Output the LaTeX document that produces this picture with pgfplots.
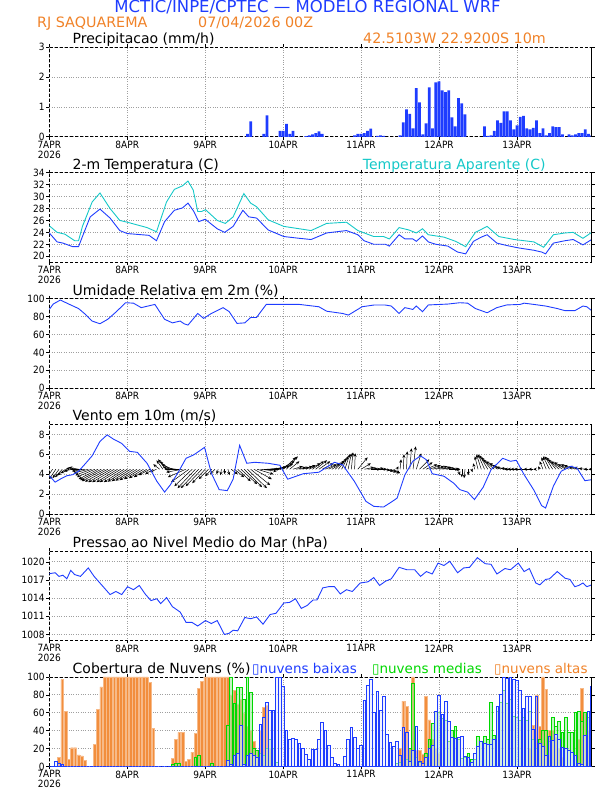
\documentclass[border=0pt]{standalone}
\usepackage{fontspec}
\setmainfont{DejaVu Sans}
\newfontfamily\condfont{DejaVu Sans Condensed}
\usepackage{pgfplots}
\pgfplotsset{compat=1.18}
\usetikzlibrary{arrows.meta}
\definecolor{gblue}{RGB}{30,60,255}
\definecolor{gorange}{RGB}{240,130,40}
\definecolor{gcyan}{RGB}{20,200,200}
\definecolor{ggreen}{RGB}{0,215,0}
\pgfplotsset{
  meteo/.style={
    scale only axis, width=542.4pt, height=89.5pt,
    xmin=0, xmax=167,
    xtick={0,24,48,72,96,120,144},
    xticklabels={7APR\\2026,8APR,9APR,10APR,11APR,12APR,13APR},
    xticklabel style={align=center, font=\condfont\fontsize{10}{10}\selectfont, inner sep=1pt},
    yticklabel style={font=\condfont\fontsize{10}{10}\selectfont, inner sep=1.5pt},
    grid=major, major grid style={gray!75, dotted, line width=0.8pt},
    tick align=outside, major tick length=3pt, tick style={black, line width=0.6pt},
    axis line style={black, densely dashed, line width=0.7pt},
    after end axis/.code={\draw[black, line width=1.4pt] (rel axis cs:1,0) -- (rel axis cs:1,1);},
    /pgf/number format/assume math mode=true,
    /pgf/number format/1000 sep={},
  }
}
\begin{document}
\begin{tikzpicture}
\path[use as bounding box] (0pt,0pt) rectangle (612pt,792pt);
% titles
\node[anchor=base, inner sep=0, text=gblue, font=\fontsize{16.5}{16.5}\selectfont] at (307.5pt,779.3pt) {MCTIC/INPE/CPTEC — MODELO REGIONAL WRF};
\node[anchor=base west, inner sep=0, text=gorange, font=\fontsize{14.3}{14.3}\selectfont] at (37pt,764.3pt) {RJ SAQUAREMA};
\node[anchor=base west, inner sep=0, text=gorange, font=\fontsize{14.3}{14.3}\selectfont] at (198pt,764.3pt) {07/04/2026 00Z};
\node[anchor=base west, inner sep=0, font=\fontsize{14}{14}\selectfont] at (72.5pt,748.2pt) {Precipitacao (mm/h)};
\node[anchor=base west, inner sep=0, text=gorange, font=\fontsize{14.3}{14.3}\selectfont] at (363pt,748.2pt) {42.5103W 22.9200S 10m};
\node[anchor=base west, inner sep=0, font=\fontsize{14}{14}\selectfont] at (72.5pt,622.8pt) {2-m Temperatura (C)};
\node[anchor=base west, inner sep=0, text=gcyan, font=\fontsize{14}{14}\selectfont] at (362.7pt,622.8pt) {Temperatura Aparente (C)};
\node[anchor=base west, inner sep=0, font=\fontsize{14}{14}\selectfont] at (72.5pt,496.8pt) {Umidade Relativa em 2m (\%)};
\node[anchor=base west, inner sep=0, font=\fontsize{14}{14}\selectfont] at (72.5pt,371pt) {Vento em 10m (m/s)};
\node[anchor=base west, inner sep=0, font=\fontsize{14}{14}\selectfont] at (72.5pt,244.5pt) {Pressao ao Nivel Medio do Mar (hPa)};
\node[anchor=base west, inner sep=0, font=\fontsize{14}{14}\selectfont] at (72.5pt,118.5pt) {Cobertura de Nuvens (\%)};
\node[anchor=base west, inner sep=0, text=gblue, font=\fontsize{13.5}{13.5}\selectfont] at (252pt,118.5pt) {▯nuvens baixas};
\node[anchor=base west, inner sep=0, text=ggreen, font=\fontsize{13.5}{13.5}\selectfont] at (372pt,118.5pt) {▯nuvens medias};
\node[anchor=base west, inner sep=0, text=gorange, font=\fontsize{13.5}{13.5}\selectfont] at (494pt,118.5pt) {▯nuvens altas};

% 1 precipitation
\begin{axis}[meteo, at={(49.3pt,655.2pt)}, anchor=south west, ymin=0, ymax=3, ytick={0,1,2,3}]
\addplot[ybar, bar width=0.85, bar shift=0pt, fill=gblue, draw=none] coordinates {
(61,0.1)(62,0.52)(66,0.1)(67,0.72)(71,0.2)(72,0.2)(73,0.43)(74,0.1)(75,0.2)
(79,0.02)(80,0.05)(81,0.08)(82,0.12)(83,0.18)(84,0.1)
(94,0.05)(95,0.1)(96,0.1)(97,0.12)(98,0.2)(99,0.27)(101,0.03)(102,0.05)(103,0.03)
(108,0.05)(109,0.48)(110,0.92)(111,0.77)(112,0.28)(113,1.63)(114,1.15)(115,0.08)(116,0.45)
(117,1.66)(118,0.28)(119,1.82)(120,1.86)(121,1.56)(122,1.5)(123,1.56)(124,0.65)(125,0.35)
(126,1.3)(127,1.12)(128,0.75)
(134,0.35)(135,0.03)(136,0.05)(137,0.2)(138,0.55)(139,0.47)(140,0.85)(141,0.85)(142,0.55)
(143,0.25)(144,0.38)(145,0.67)(146,0.7)(147,0.28)(148,0.25)(149,0.3)(150,0.55)(151,0.12)
(152,0.28)(153,0.05)(154,0.12)(155,0.35)(156,0.32)(157,0.32)(158,0.08)(160,0.08)(161,0.05)
(162,0.08)(163,0.12)(164,0.12)(165,0.25)(166,0.1)(167,0.05)};
\end{axis}

% 2 temperature
\begin{axis}[meteo, at={(49.3pt,529.8pt)}, anchor=south west, ymin=19, ymax=34, ytick={20,22,...,34}]
\addplot[gcyan, line width=0.9pt] coordinates {
(0,25.1)(2.4,24.0)(4.8,23.7)(7.8,22.6)(9,22.6)(10.2,25.0)(13.2,29.1)(15.6,30.6)(18.7,28.0)
(21.7,26.0)(24,25.7)(30.1,24.8)(33,24.1)(36.1,29.1)(38.5,31.2)(41,31.8)(42.7,32.6)(44.3,31.1)
(45.7,27.5)(46.9,27.5)(48.1,27.8)(51.7,26.0)(54.2,25.5)(56.6,26.6)(59.9,30.5)(62,28.9)
(63.8,28.3)(67.4,26.1)(72.2,25)(77,24.6)(80.6,24.3)(85.4,25.5)(91.5,25.7)(95,24.3)
(99.9,23.3)(102.9,23.3)(104.7,22.9)(107.7,24.8)(110.7,24.4)(113,23.9)(114.9,24.6)
(116.7,23.6)(121.5,23.2)(125.1,22.5)(128.2,21.6)(131.2,24.0)(134.8,25.0)(138.4,23.3)
(143.2,22.8)(149.2,22.4)(152.2,21.5)(155.2,23.6)(158.8,23.9)(161.3,24.0)(164.3,23.0)(167,24.0)};
\addplot[gblue, line width=0.9pt] coordinates {
(0,23.9)(2.4,22.4)(4.2,22.2)(7.2,21.6)(9,21.6)(10.2,23.3)(12.6,26.6)(15.6,27.9)(18.7,26.4)
(21.7,24.3)(24,23.8)(30.7,23.5)(33,22.6)(35.5,25.8)(38.5,27.7)(41,28.1)(42.7,28.9)(44.5,27.5)
(46,25.8)(48,26.2)(51.7,24.6)(54,24.0)(56.6,25)(59.6,27.7)(61.4,26.6)(63.8,26.4)(67.4,24.4)
(72.2,23.3)(77,23.0)(80.6,22.8)(85.4,23.9)(91.5,24.3)(95,23.6)(96.9,22.6)(99.9,22.0)
(103.5,22.0)(104.7,21.7)(107.7,23.6)(109.5,22.9)(111.9,22.9)(113,22.5)(114.9,23.4)
(116.7,22.4)(119,22)(122.7,21.7)(125.7,20.7)(128.2,20.4)(130.6,22.5)(133,23.2)(134.8,23.6)
(137.8,22.2)(140.8,21.8)(144.4,21.4)(149.2,21.0)(151.6,20.7)(152.8,20.4)(155.2,22.2)
(158.8,22.6)(161.3,22.8)(164.3,21.9)(167,22.8)};
\end{axis}

% 3 relative humidity
\begin{axis}[meteo, at={(49.3pt,403.8pt)}, anchor=south west, ymin=0, ymax=100, ytick={0,20,...,100}]
\addplot[gblue, line width=0.9pt] coordinates {
(0,88)(1.2,94)(3.4,98.5)(6,94)(9,89)(10.8,83.5)(13.2,75)(15.6,72)(18,77)(20.5,85)(23.5,95.5)
(25.9,95)(28.3,90)(32.5,93.6)(33.7,87)(35.5,77)(37.9,73)(40.3,75)(41.5,72)(42.7,70.5)
(45.7,83.5)(47.5,78)(49.9,83.5)(53.5,90)(55.4,85.5)(57.8,72.4)(60.2,73)(62,79)(63.8,79)
(66.8,93.6)(72.2,93.6)(77,93.6)(83,91)(85.4,86)(90.3,83.5)(92.1,81.7)(96.3,91)(99.9,92.9)
(103.5,92.9)(105.3,91.8)(107.7,83.5)(109.5,90)(111.9,88)(113,91.8)(114.9,85.5)(116.7,93)
(122.7,94)(126.4,95.5)(128.8,95)(131.2,89)(134.8,84.3)(137.8,90)(140.8,93)(145,93.6)
(146.2,95)(149.2,93.6)(152.8,91.8)(156.4,89)(158.8,86.6)(161.8,86.6)(164.3,91.8)(165.5,91)(167,86.6)};
\end{axis}

% 4 wind
\begin{axis}[meteo, at={(49.3pt,278pt)}, anchor=south west, ymin=0, ymax=9, ytick={0,2,4,6,8}]
\addplot[black, line width=0.5pt, -{Stealth[length=3.5pt,width=3pt]},
  quiver={u=\thisrow{u}, v=\thisrow{v}}] table {
h y u v
0 4.5 -1.5 -0.8
1 4.5 -1.8 -0.9
2 4.5 -2 -1.0
3 4.5 -2 -0.9
4 4.5 -2.2 -0.8
5 4.5 -2.5 -0.6
6 4.5 -2.5 -0.4
7 4.5 -2.5 -0.2
8 4.5 -2.8 0.1
9 4.5 -3 0.2
10 4.5 -3.5 0
11 4.5 -4 -0.2
12 4.5 -4.5 -0.4
13 4.5 -5 -0.6
14 4.5 -5.5 -0.8
15 4.5 -6 -1.0
16 4.5 -6.5 -1.1
17 4.5 -7 -1.2
18 4.5 -7 -1.25
19 4.5 -7 -1.3
20 4.5 -6.8 -1.3
21 4.5 -6.5 -1.3
22 4.5 -6.5 -1.3
23 4.5 -6.2 -1.3
24 4.5 -6 -1.25
25 4.5 -5.8 -1.2
26 4.5 -5.6 -1.15
27 4.5 -5.4 -1.1
28 4.5 -5 -1.0
29 4.5 -4.5 -0.9
30 4.5 -4 -0.8
31 4.5 -3.5 -0.6
32 4.5 -2.5 -0.5
33 4.5 -2 -0.3
34 4.5 -2 0.5
35 4.5 -2 0.9
36 4.5 -2.5 1.0
37 4.5 -3 0.8
38 4.5 -3.5 0.5
39 4.5 -4 0.2
40 4.5 -4.5 0
41 4.5 -5 -0.3
42 4.5 -5.5 -0.8
43 4.5 -5.5 -1.3
44 4.5 -5.5 -1.7
45 4.5 -5.5 -1.9
46 4.5 -5.5 -1.9
47 4.5 -5 -1.7
48 4.5 -4 -1.4
49 4.5 -3 -1.0
50 4.5 -2 -0.7
51 4.5 -1.5 -0.5
52 4.5 -0.5 -0.5
53 4.5 -0.3 -0.6
54 4.5 0 -0.5
55 4.5 0.5 -0.6
56 4.5 2 -0.5
57 4.5 3 -0.8
58 4.5 4 -1.2
59 4.5 5 -1.5
60 4.5 5.5 -1.8
61 4.5 6 -1.9
62 4.5 6 -1.6
63 4.5 5.5 -1.0
64 4.5 5 -0.5
65 4.5 5 -0.2
66 4.5 5 0
67 4.5 5 0.1
68 4.5 5 0.2
69 4.5 5 0.3
70 4.5 5 0.5
71 4.5 4.5 0.8
72 4.5 4 1.2
73 4.5 3.5 1.3
74 4.5 3 0.8
75 4.5 3 0.3
76 4.5 3 0.2
77 4.5 3 0.2
78 4.5 3 0.3
79 4.5 3 0.4
80 4.5 3.5 0.6
81 4.5 3.5 0.8
82 4.5 3.5 0.9
83 4.5 3.5 0.8
84 4.5 3.5 0.6
85 4.5 3.5 0.5
86 4.5 3.5 0.6
87 4.5 3.5 0.7
88 4.5 3 0.9
89 4.5 2.5 1.1
90 4.5 2 1.3
91 4.5 1.5 1.5
92 4.5 1 1.6
93 4.5 0.5 1.7
94 4.5 0.2 1.6
95 4.5 3 1.2
96 4.5 3 0.6
97 4.5 3 0.2
98 4.5 3 0.1
99 4.5 3 0
100 4.5 3 0.1
101 4.5 3 0
102 4.5 3 -0.1
103 4.5 3 -0.2
104 4.5 3 -0.3
105 4.5 3 -0.4
106 4.5 2 -0.4
107 4.5 0.5 0.3
108 4.5 0.3 1.0
109 4.5 0.2 1.5
110 4.5 0.2 1.8
111 4.5 0.5 2.1
112 4.5 0.8 2.3
113 4.5 1.5 1.6
114 4.5 3 1.0
115 4.5 3 0.7
116 4.5 3.5 0.5
117 4.5 3.5 0.4
118 4.5 3.5 0.3
119 4.5 3.5 0.3
120 4.5 3.5 0.2
121 4.5 3 0.2
122 4.5 3 0.1
123 4.5 3 0
124 4.5 2.5 0
125 4.5 1.5 0
126 4.5 0.3 -0.6
127 4.5 0 -0.8
128 4.5 -0.3 -0.9
129 4.5 0 -0.6
130 4.5 0.3 -0.3
131 4.5 -0.5 0.6
132 4.5 -1 1.3
133 4.5 -1.5 1.5
134 4.5 -2 1.5
135 4.5 -2.5 1.4
136 4.5 -3 1.2
137 4.5 -3.5 1.0
138 4.5 -3.5 0.8
139 4.5 -3.5 0.6
140 4.5 -3.5 0.4
141 4.5 -3.5 0.2
142 4.5 -3 0.1
143 4.5 -3 0
144 4.5 -3 0
145 4.5 -3 0
146 4.5 -3 0
147 4.5 -2.5 0
148 4.5 -2 0
149 4.5 -1.5 0
150 4.5 -1 0
151 4.5 -0.5 0.3
152 4.5 -1 0.8
153 4.5 -1.5 1.2
154 4.5 -2 1.3
155 4.5 -2.5 1.3
156 4.5 -3 1.2
157 4.5 -3.5 1.0
158 4.5 -3.5 0.8
159 4.5 -3.5 0.7
160 4.5 -3.5 0.5
161 4.5 -3.5 0.5
162 4.5 -3.5 0.4
163 4.5 -3 0.3
164 4.5 -2.5 0.2
165 4.5 -2 0.1
166 4.5 -1.5 0
167 4.5 -1 0
};
\addplot[gblue, line width=0.9pt] coordinates {
(0,3.85)(1.8,3.2)(3.6,3.55)(5.4,3.85)(7.2,3.95)(9,4.3)(10.8,4.95)(13.2,5.85)(15.6,7.3)
(17.8,7.95)(19.9,7.5)(22.3,7.1)(24.7,6.3)(27.1,6.2)(30.1,5.1)(33.1,3.3)(35.5,2.2)(37.3,2.95)
(39.7,4.2)(42.1,5.6)(44.5,5.95)(47.8,6.7)(49.9,4.1)(52.3,2.45)(54.8,2.35)(56.6,3.5)(58.6,6.9)
(60.8,5.1)(63.2,5.2)(67.4,5.1)(71,4.9)(73.4,3.5)(78.2,4.05)(83,4.2)(87.8,5.2)(90.3,4.95)
(93.9,3.3)(97.5,1.27)(99.9,0.77)(102.9,0.7)(105.3,1.2)(107.1,1.6)(109.5,3.95)(111.9,5.3)
(114.3,5.85)(116.1,5.45)(117.9,4.05)(121.5,3.8)(124.5,3.1)(126.4,2.45)(128.8,2.2)(130.9,1.45)
(133.6,2.7)(136,4.45)(139.6,5.6)(142,5.3)(143.8,5.4)(146.2,3.95)(149.2,2.4)(151.6,0.84)
(152.8,0.6)(155.2,2.8)(157.6,4.3)(160.6,4.8)(162.5,4.6)(164.9,3.35)(167,3.45)};
\end{axis}

% 5 pressure
\begin{axis}[meteo, at={(49.3pt,151.5pt)}, anchor=south west, ymin=1007, ymax=1021.8, ytick={1008,1011,1014,1017,1020}]
\addplot[gblue, line width=0.9pt] coordinates {
(0,1018.05)(1.8,1018.2)(3,1017.6)(4.2,1017.8)(5.4,1017.2)(6.6,1018.6)(7.8,1017.9)(9.6,1017.6)
(12,1019.0)(13.8,1017.6)(15.6,1016.5)(17.4,1015.4)(18.7,1014.6)(20.5,1015.1)(22.3,1014.6)
(24.1,1015.9)(25.9,1015.4)(27.7,1016.1)(29.5,1014.7)(31.3,1013.6)(33.1,1013.9)(34.3,1013.1)
(36.1,1014.1)(37.9,1012.6)(40.3,1011.7)(42.1,1010.0)(43.9,1010.0)(45.7,1009.4)(48.1,1010.3)
(49.9,1009.8)(51.7,1010.3)(53.9,1008.0)(55.4,1008.2)(56.6,1008.7)(58,1008.6)(60.2,1010.8)
(62,1010.6)(63.8,1010.9)(65.8,1009.7)(68,1011.3)(69.8,1011.5)(72.2,1013.2)(74,1013.3)
(75.8,1013.9)(77.6,1012.3)(79.4,1012.8)(81.2,1013.7)(82.4,1013.7)(84.2,1015.7)(86,1015.9)
(87.8,1015.9)(89.6,1014.7)(91.5,1015.4)(93.3,1015.1)(95.7,1016.5)(98.1,1016.7)(99.9,1017.4)
(101.7,1016.1)(103.5,1016.8)(105.3,1017.2)(107.7,1019.1)(110.1,1018.7)(112.5,1018.7)
(114.3,1017.6)(116.1,1018.4)(117.9,1018.0)(119.7,1019.8)(121.5,1019.4)(123.3,1020.1)
(125.7,1018.2)(127.6,1019.0)(129.4,1019.1)(131.8,1020.7)(134.2,1019.7)(136,1019.6)
(137.8,1018.0)(140.3,1018.9)(142,1018.7)(144.4,1019.8)(146.2,1018.4)(147.8,1018.9)
(149.8,1016.5)(151,1016.2)(152.8,1017.1)(154,1017.2)(156.4,1018.4)(158.8,1017.3)
(160.3,1017.1)(161.8,1015.9)(163,1016.1)(164.3,1016.5)(165.5,1015.9)(167,1016.2)};
\end{axis}

% 6 clouds
\begin{axis}[meteo, at={(49.3pt,25.5pt)}, anchor=south west, ymin=0, ymax=100, ytick={0,20,...,100}]
\addplot[ybar, bar width=0.85, bar shift=0pt, fill=gorange!90, draw=gorange!55!white, line width=0.4pt] coordinates {
(3,10)(4,97)(5,62)(6,8)(7,21)(8,21)(9,13)(10,12)(11,7)
(14,25)(15,64)(16,89)(17,100)(18,100)(19,100)(20,100)(21,100)(22,100)(23,100)(24,100)
(25,100)(26,100)(27,100)(28,100)(29,100)(30,100)(31,94)(32,43)
(38,9)(39,30)(40,38)(41,38)(42,6)(43,8)(44,16)(45,37)(46,87)(47,95)(48,100)(49,100)
(50,100)(51,100)(52,100)(53,100)(54,100)(55,100)(56,80)(57,85)(58,70)(59,75)(60,60)
(61,45)(62,40)(63,28)(64,18)(65,40)(66,66)(67,68)(68,20)
(108,20)(109,73)(110,67)(111,20)(112,100)(113,18)(114,18)(115,14)(116,78)(117,52)(118,30)
(119,20)(120,15)(148,20)(149,46)(150,80)(151,45)(152,100)(153,86)(154,40)(155,40)(156,33)
(157,20)(158,10)(163,30)(164,87)(165,60)(166,40)};
\addplot[ybar, bar width=0.85, bar shift=0pt, draw=ggreen, fill=ggreen!40, fill opacity=0.6, line width=0.8pt] coordinates {
(38,2)(39,3)(40,4)(45,10)(46,12)(50,4)(55,46)(56,100)(57,70)(58,88)(59,88)(60,75)(61,100)
(62,83)(63,20)(64,18)(65,15)(66,12)(67,20)(68,30)(69,20)(70,5)
(107,3)(108,5)(110,8)(111,20)(112,93)(113,10)(114,5)(116,15)(117,30)(118,48)(119,62)
(120,60)(121,54)(122,52)(123,28)(124,40)(125,45)(126,30)(127,9)(128,10)(129,15)(130,8)
(131,8)(132,34)(133,28)(134,34)(135,30)(136,72)(137,35)(138,62)(139,72)(140,85)(141,70)
(142,75)(143,56)(144,55)(145,52)(146,55)(147,52)(148,62)(149,30)(150,20)(151,30)(152,40)
(153,40)(154,28)(155,55)(156,45)(157,50)(158,38)(159,55)(160,38)(161,38)(162,60)(163,62)
(164,50)(165,60)(166,55)};
\addplot[ybar, bar width=0.85, bar shift=0pt, draw=gblue, fill=gblue!12, fill opacity=0.5, line width=0.8pt] coordinates {
(0,0)(1,0)(2,6)(3,3)(4,2)(5,0)(6,0)(7,0)(8,0)(9,0)(10,0)(11,0)(12,0)(13,0)(14,0)(15,0)
(16,0)(17,0)(18,0)(19,0)(20,0)(21,0)(22,0)(23,0)(24,0)(25,0)(26,0)(27,0)(28,0)(29,0)
(30,0)(31,0)(32,0)(33,0)(34,0)(35,0)(36,0)(37,0)(38,0)(39,0)(40,0)(41,0)(42,0)(43,0)
(44,0)(45,0)(46,0)(47,0)(48,0)(49,0)(50,0)(51,0)(52,0)(53,0)(54,0)
(55,7)(56,2)(57,12)(58,15)(59,46)(60,2)(61,12)(62,15)(63,12)(64,10)(65,47)(66,55)(67,72)
(68,63)(69,63)(70,100)(71,100)(72,90)(73,40)(74,30)(75,31)(76,30)(77,26)(78,20)(79,13)
(80,8)(81,19)(82,19)(83,30)(84,49)(85,40)(86,24)(87,10)(88,3)(89,2)(90,0)(91,11)(92,30)
(93,44)(94,33)(95,20)(96,24)(97,74)(98,91)(99,97)(100,60)(101,84)(102,63)(103,78)(104,36)
(105,27)(106,22)(107,28)(108,12)(109,44)(110,38)(111,6)(112,18)(113,45)(114,6)(115,3)
(116,10)(117,20)(118,24)(119,62)(120,79)(121,58)(122,73)(123,50)(124,32)(125,31)(126,32)
(127,34)(128,11)(129,10)(130,5)(131,15)(132,22)(133,28)(134,26)(135,25)(136,25)(137,30)
(138,67)(139,80)(140,100)(141,98)(142,100)(143,97)(144,96)(145,85)(146,65)(147,78)(148,78)
(149,42)(150,78)(151,26)(152,22)(153,12)(154,34)(155,29)(156,36)(157,30)(158,21)(159,20)
(160,18)(161,16)(162,12)(163,4)(164,2)(165,35)(166,62)(167,90)};
\end{axis}
\end{tikzpicture}
\end{document}
